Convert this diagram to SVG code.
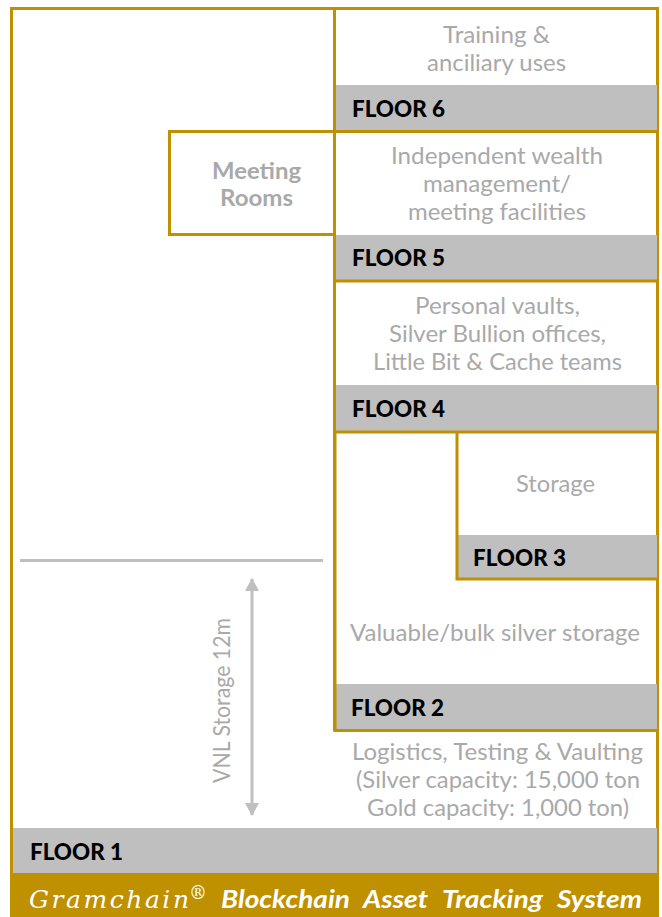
<svg xmlns="http://www.w3.org/2000/svg" width="662" height="917" viewBox="0 0 662 917">
<style>
.band{fill:#bfbfbf}
.g{fill:none;stroke:#bf9000;stroke-width:3}
.t{font-family:Lato,"Open Sans",sans-serif;font-size:23px;fill:#a9a9a9}
.f{font-family:Lato,"Open Sans",sans-serif;font-size:22.500px;font-weight:900;fill:#000}
.c{stroke:#bfbfbf;stroke-width:3;fill:none}
.b{font-family:Lato,"Open Sans",sans-serif;font-style:italic;font-weight:700;font-size:25px;fill:#fff}
.s{font-family:"DejaVu Serif",serif;font-style:italic;fill:#fff}
</style>
<defs>
<marker id="ah" viewBox="0 0 14 14" refX="12" refY="7" markerWidth="14" markerHeight="14" markerUnits="userSpaceOnUse" orient="auto-start-reverse"><path d="M0 0L13 7L0 14Z" fill="#bfbfbf"/></marker>
</defs>
<rect width="662" height="917" fill="#fff"/>
<g id="frame"><rect class="g" x="11.500" y="8.500" width="646" height="866"/></g>
<g id="floor1"><rect class="band" x="13" y="828" width="644" height="45"/><text class="f" x="30" y="860" textLength="93" lengthAdjust="spacingAndGlyphs">FLOOR 1</text>
<text class="t" x="352" y="760" textLength="291" lengthAdjust="spacingAndGlyphs">Logistics, Testing &amp; Vaulting</text><text class="t" x="356" y="788" textLength="284" lengthAdjust="spacingAndGlyphs">(Silver capacity: 15,000 ton</text><text class="t" x="367" y="816" textLength="262" lengthAdjust="spacingAndGlyphs">Gold capacity: 1,000 ton)</text></g>
<g id="floor2"><rect class="band" x="335" y="684" width="322" height="46"/><path class="g" d="M335 433V730.500H658"/><text class="f" x="351" y="716" textLength="93" lengthAdjust="spacingAndGlyphs">FLOOR 2</text>
<text class="t" x="350" y="641" textLength="290" lengthAdjust="spacingAndGlyphs">Valuable/bulk silver storage</text></g>
<g id="floor3"><rect class="band" x="457" y="535" width="200" height="44"/><path class="g" d="M457 433V579H658"/><text class="f" x="473" y="566" textLength="93" lengthAdjust="spacingAndGlyphs">FLOOR 3</text><text class="t" x="516" y="492" textLength="79" lengthAdjust="spacingAndGlyphs">Storage</text></g>
<g id="floor4"><rect class="band" x="335" y="385" width="322" height="46"/><path class="g" d="M335 432H658"/><text class="f" x="352" y="417" textLength="93" lengthAdjust="spacingAndGlyphs">FLOOR 4</text>
<text class="t" x="415" y="314" textLength="165" lengthAdjust="spacingAndGlyphs">Personal vaults,</text><text class="t" x="389" y="342" textLength="217" lengthAdjust="spacingAndGlyphs">Silver Bullion offices,</text><text class="t" x="373" y="370" textLength="249" lengthAdjust="spacingAndGlyphs">Little Bit &amp; Cache teams</text></g>
<g id="floor5"><rect class="band" x="335" y="235" width="322" height="45"/><path class="g" d="M335 281H658"/><text class="f" x="352" y="266" textLength="93" lengthAdjust="spacingAndGlyphs">FLOOR 5</text>
<text class="t" x="391" y="164" textLength="212" lengthAdjust="spacingAndGlyphs">Independent wealth</text><text class="t" x="423" y="192" textLength="148" lengthAdjust="spacingAndGlyphs">management/</text><text class="t" x="408" y="220" textLength="178" lengthAdjust="spacingAndGlyphs">meeting facilities</text></g>
<g id="floor6"><rect class="band" x="335" y="85" width="322" height="46"/><path class="g" d="M334.500 8V731"/><path class="g" d="M335 131.500H658"/><text class="f" x="352" y="117" textLength="93" lengthAdjust="spacingAndGlyphs">FLOOR 6</text>
<text class="t" x="443" y="43" textLength="107" lengthAdjust="spacingAndGlyphs">Training &amp;</text><text class="t" x="427" y="71" textLength="139" lengthAdjust="spacingAndGlyphs">anciliary uses</text></g>
<g id="meeting"><path class="g" d="M334 131.500H169.500V234.500H334"/><text class="t" x="212" y="179" style="font-weight:700" textLength="89" lengthAdjust="spacingAndGlyphs">Meeting</text><text class="t" x="220" y="206" style="font-weight:700" textLength="73" lengthAdjust="spacingAndGlyphs">Rooms</text></g>
<g id="connectors"><path class="c" d="M20 560.500H323"/><path class="c" d="M252 579V815" marker-start="url(#ah)" marker-end="url(#ah)"/></g>
<text id="vnl" class="t" transform="translate(230 783) rotate(-90)" textLength="165" lengthAdjust="spacingAndGlyphs">VNL Storage 12m</text>
<g id="banner"><rect x="10" y="873" width="649" height="44" fill="#bf9000"/>
<text class="s" x="29" y="908" font-size="25px" textLength="160">Gramchain</text><text class="s" x="189" y="899" font-size="19px" textLength="18" lengthAdjust="spacingAndGlyphs">®</text>
<text class="b" y="908"><tspan x="221" textLength="129" lengthAdjust="spacingAndGlyphs">Blockchain</tspan> <tspan x="363" textLength="65" lengthAdjust="spacingAndGlyphs">Asset</tspan> <tspan x="442" textLength="101" lengthAdjust="spacingAndGlyphs">Tracking</tspan> <tspan x="557" textLength="85" lengthAdjust="spacingAndGlyphs">System</tspan></text></g>
</svg>
